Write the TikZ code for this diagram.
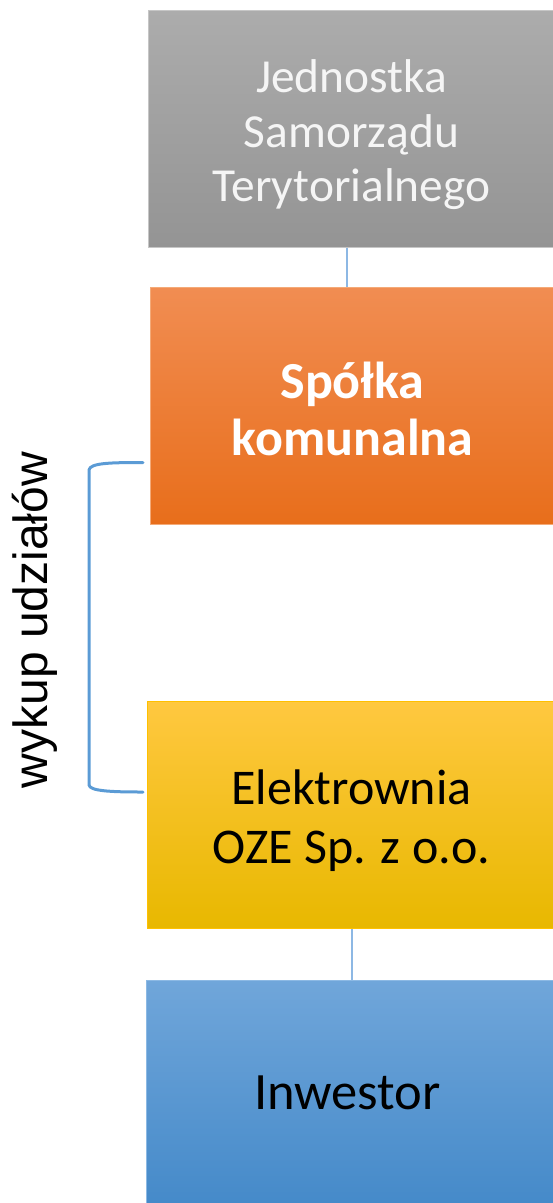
\documentclass[tikz,border=0pt]{standalone}
\usepackage{fontspec}
\newfontfamily\carl{Carlito}
\newfontfamily\arialf{Liberation Sans}
\begin{document}
\begin{tikzpicture}[x=1pt,y=-1pt,
  box/.style={rectangle, inner sep=0pt, line width=1pt},
  btext/.style={align=center, inner sep=0pt},
  conn/.style={draw=connblue, line width=1.3pt},
  brack/.style={draw=brackblue, line width=3pt, line cap=round}
]
\definecolor{connblue}{HTML}{8DB8E4}
\definecolor{brackblue}{HTML}{5B9BD5}
\useasboundingbox (0,0) rectangle (552,1203);
% boxes
\node[box, draw=gray!45, top color={rgb,255:red,172;green,172;blue,172}, bottom color={rgb,255:red,148;green,148;blue,148}, minimum width=408pt, minimum height=237pt] (g) at (352,128.5) {};
\node[box, draw={rgb,255:red,244;green,170;blue,120}, top color={rgb,255:red,241;green,141;blue,82}, bottom color={rgb,255:red,232;green,110;blue,27}, minimum width=406pt, minimum height=237pt] (o) at (353,405.5) {};
\node[box, draw={rgb,255:red,255;green,192;blue,0}, top color={rgb,255:red,255;green,200;blue,64}, bottom color={rgb,255:red,232;green,184;blue,0}, minimum width=409pt, minimum height=227pt] (y) at (351.5,814.5) {};
\node[box, draw={rgb,255:red,140;green,185;blue,228}, top color={rgb,255:red,112;green,166;blue,218}, bottom color={rgb,255:red,66;green,136;blue,200}, minimum width=410pt, minimum height=240pt] (b) at (351,1100) {};
% texts
\node[btext, text={rgb,255:red,245;green,245;blue,245}, font={\carl\fontsize{47.4}{54.5}\selectfont}] (gt) at (351.5,135) {Jednostka\\Samorządu\\Terytorialnego};
\node[btext, text=white, font={\carl\bfseries\fontsize{52}{57}\selectfont}] (ot) at (352.5,409) {Spółka\\komunalna};
\node[btext, text=black, font={\carl\fontsize{50}{59}\selectfont}] (yt) at (351.5,821) {Elektrownia\\OZE Sp. z o.o.};
\node[btext, text=black, font={\carl\fontsize{52.5}{60}\selectfont}] (bt) at (347.5,1093) {Inwestor};
% connectors
\draw[conn] (g.south -| 347,0) -- (o.north -| 347,0);
\draw[conn] (y.south -| 352,0) -- (b.north -| 352,0);
% bracket
\coordinate (b1) at (143,462.5);
\coordinate (b2) at (143,792);
\draw[brack] (b1) .. controls (110,462.5) and (90,463) .. (89,470) -- (89,785) .. controls (90,791) and (110,792) .. (b2);
\node[rotate=90, anchor=base, inner sep=0pt, font={\arialf\fontsize{48}{58}\selectfont}] (lab) at (47,620) {wykup udziałów};
\end{tikzpicture}
\end{document}
